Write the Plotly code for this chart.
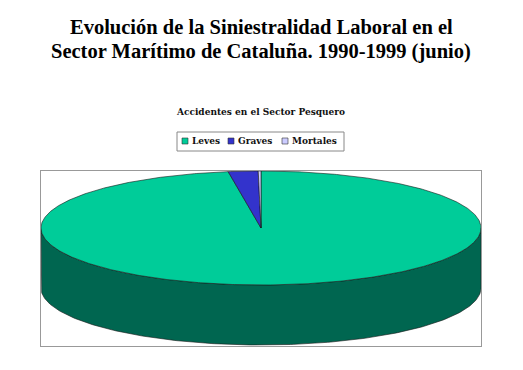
import numpy as np
import plotly.graph_objects as go

# ---- data ----
categories = ["Leves", "Graves", "Mortales"]
values = [4380, 98, 9]
top_colors = ["#00CC99", "#3333CC", "#CCCCFF"]
side_colors = ["#006650", "#1A1A66", "#666680"]
title_lines = ["Evolución de la Siniestralidad Laboral en el",
               "Sector Marítimo de Cataluña. 1990-1999 (junio)"]
subtitle = "Accidentes en el Sector Pesquero"

# ---- geometry of the tilted pie (units: radius = 1) ----
tilt = 57 / 220.0     # vertical squash of the top face
depth = 60 / 220.0    # thickness of the pie

total = float(sum(values))
bounds = np.concatenate([[0.0], np.cumsum(values) / total * 360.0])

fig = go.Figure()


def rim(t_deg, dy=0.0):
    t = np.radians(t_deg)
    return np.sin(t), tilt * np.cos(t) + dy


# side walls (front half only: 90..270 degrees clockwise from top)
for i, cat in enumerate(categories):
    a0, a1 = max(bounds[i], 90.0), min(bounds[i + 1], 270.0)
    if a1 <= a0:
        continue
    t = np.linspace(a0, a1, 200)
    xt, yt = rim(t)
    xb, yb = rim(t[::-1], -depth)
    fig.add_trace(go.Scatter(
        x=np.concatenate([xt, xb, xt[:1]]), y=np.concatenate([yt, yb, yt[:1]]),
        mode="lines", fill="toself", fillcolor=side_colors[i],
        line=dict(color="#1a1a1a", width=0.6), hoverinfo="skip", showlegend=False))

# top faces
for i, cat in enumerate(categories):
    a0, a1 = bounds[i], bounds[i + 1]
    n = max(3, int((a1 - a0) * 2))
    t = np.linspace(a0, a1, n)
    xs, ys = rim(t)
    fig.add_trace(go.Scatter(
        x=np.concatenate([[0], xs, [0]]), y=np.concatenate([[0], ys, [0]]),
        mode="lines", fill="toself", fillcolor=top_colors[i],
        line=dict(color="#1a1a1a", width=0.6), name=cat,
        hovertemplate=f"{cat}: {values[i]}<extra></extra>", showlegend=False))

# page body has an 8px margin; figure is sized to fit the 523x370 window
OFF = 8
W, H = 523 - 2 * OFF, 370 - 2 * OFF


def px(x):
    return (x - OFF) / W


def py(y):
    return 1 - (y - OFF) / H


fig.update_layout(
    width=W, height=H, margin=dict(l=0, r=0, t=0, b=0),
    paper_bgcolor="white", plot_bgcolor="white", showlegend=False,
    xaxis=dict(domain=[px(41), px(481)], range=[-1.0, 1.0],
               showgrid=False, zeroline=False, showticklabels=False, ticks="",
               showline=True, mirror=True, linecolor="#999999", linewidth=1,
               fixedrange=True),
    yaxis=dict(domain=[py(346), py(171)], range=[-118 / 220, 57 / 220],
               showgrid=False, zeroline=False, showticklabels=False, ticks="",
               showline=True, mirror=True, linecolor="#999999", linewidth=1,
               fixedrange=True),
)

serif = "Liberation Serif"
ann = []
for j, (line, yy) in enumerate(zip(title_lines, [27, 52])):
    ann.append(dict(text=f"<b>{line}</b>", x=px(261), y=py(yy),
                    xref="paper", yref="paper", showarrow=False,
                    xanchor="center", yanchor="middle",
                    font=dict(family=serif, size=20.5, color="black")))
ann.append(dict(text=f"<b>{subtitle}</b>", x=px(260), y=py(112),
                xref="paper", yref="paper", showarrow=False,
                xanchor="center", yanchor="middle",
                font=dict(family="DejaVu Serif", size=9, color="#111111")))

# custom legend (box, swatches, labels)
shapes = [dict(type="rect", xref="paper", yref="paper",
               x0=px(177), x1=px(344), y0=py(151), y1=py(132),
               line=dict(color="#888888", width=1), fillcolor="white", layer="below")]
swatch_x = [182, 228, 282]
for i, cat in enumerate(categories):
    sx = swatch_x[i]
    shapes.append(dict(type="rect", xref="paper", yref="paper",
                       x0=px(sx), x1=px(sx + 6), y0=py(144), y1=py(138),
                       line=dict(color="#333333", width=0.6), fillcolor=top_colors[i]))
    ann.append(dict(text=f"<b>{cat}</b>", x=px(sx + 8), y=py(141),
                    xref="paper", yref="paper", showarrow=False,
                    xanchor="left", yanchor="middle",
                    font=dict(family="DejaVu Serif", size=9, color="#111111")))

fig.update_layout(annotations=ann, shapes=shapes)
fig.write_html("out.html")
